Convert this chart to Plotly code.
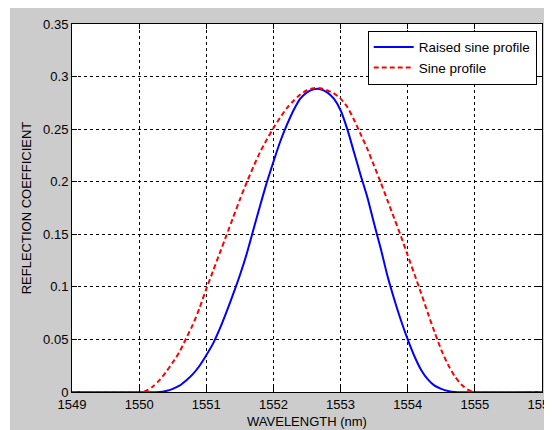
import plotly.graph_objects as go

wavelength_sine = [1549.0, 1550.0, 1550.1, 1550.2, 1550.3, 1550.4, 1550.5, 1550.6, 1550.7, 1550.8,
                   1550.9, 1551.0, 1551.1, 1551.2, 1551.3, 1551.4, 1551.5, 1551.6, 1551.7, 1551.8,
                   1551.9, 1552.0, 1552.1, 1552.2, 1552.3, 1552.4, 1552.5, 1552.6, 1552.7, 1552.8,
                   1552.9, 1553.0, 1553.1, 1553.2, 1553.3, 1553.4, 1553.5, 1553.6, 1553.7, 1553.8,
                   1553.9, 1554.0, 1554.1, 1554.2, 1554.3, 1554.4, 1554.5, 1554.6, 1554.7, 1554.8,
                   1554.9, 1555.0, 1556.0]
refl_sine = [0.0, 0.0, 0.001, 0.005, 0.011, 0.019, 0.028, 0.038, 0.051, 0.064,
             0.080, 0.098, 0.115, 0.132, 0.149, 0.166, 0.183, 0.199, 0.214, 0.228,
             0.240, 0.251, 0.261, 0.270, 0.277, 0.283, 0.287, 0.289, 0.289, 0.287,
             0.284, 0.279, 0.271, 0.259, 0.245, 0.231, 0.215, 0.199, 0.182, 0.165,
             0.148, 0.130, 0.112, 0.094, 0.075, 0.057, 0.040, 0.026, 0.015, 0.007,
             0.002, 0.0, 0.0]

wavelength_raised = [1549.0, 1550.3, 1550.4, 1550.5, 1550.6, 1550.7, 1550.8, 1550.9, 1551.0, 1551.1,
                     1551.2, 1551.3, 1551.4, 1551.5, 1551.6, 1551.7, 1551.8, 1551.9, 1552.0, 1552.1,
                     1552.2, 1552.3, 1552.4, 1552.5, 1552.6, 1552.7, 1552.8, 1552.9, 1553.0, 1553.1,
                     1553.2, 1553.3, 1553.4, 1553.5, 1553.6, 1553.7, 1553.8, 1553.9, 1554.0, 1554.1,
                     1554.2, 1554.3, 1554.4, 1554.5, 1554.6, 1554.7, 1556.0]
refl_raised = [0.0, 0.0, 0.001, 0.003, 0.006, 0.011, 0.017, 0.025, 0.035, 0.046,
               0.060, 0.076, 0.093, 0.111, 0.131, 0.154, 0.177, 0.199, 0.219, 0.238,
               0.254, 0.268, 0.279, 0.285, 0.288, 0.288, 0.285, 0.279, 0.268, 0.250,
               0.228, 0.206, 0.185, 0.160, 0.136, 0.110, 0.088, 0.068, 0.050, 0.034,
               0.021, 0.012, 0.006, 0.003, 0.001, 0.0, 0.0]

x_ticks = [1549, 1550, 1551, 1552, 1553, 1554, 1555, 1556]
x_labels = ["1549", "1550", "1551", "1552", "1553", "1554", "1555", "1556"]
y_ticks = [0, 0.05, 0.1, 0.15, 0.2, 0.25, 0.3, 0.35]
y_labels = ["0", "0.05", "0.1", "0.15", "0.2", "0.25", "0.3", "0.35"]

FONT = "Liberation Sans, Arial, sans-serif"
FS = 13

fig = go.Figure()
fig.add_trace(go.Scatter(x=wavelength_raised, y=refl_raised, mode="lines",
                         name="Raised sine profile",
                         line=dict(color="#0000ff", width=2, shape="spline", smoothing=0.6)))
fig.add_trace(go.Scatter(x=wavelength_sine, y=refl_sine, mode="lines",
                         name="Sine profile",
                         line=dict(color="#ff0000", width=2, dash="5px,3px", shape="spline", smoothing=0.6)))

# page has an 8px body margin; figure is placed at (8, 8)
W, H = 544, 422
L, R, T, B = 64, 10, 16, 38
pw, ph = W - L - R, H - T - B

# thin white strip at the far left (reference grey starts 2px later)
fig.add_shape(type="rect", xref="paper", yref="paper", layer="below",
              x0=-L / pw, x1=(2 - L) / pw, y0=-B / ph, y1=(H - B) / ph,
              fillcolor="white", line=dict(width=0))

axis_common = dict(showline=True, linecolor="black", linewidth=1, mirror="ticks",
                   ticks="inside", ticklen=5, tickcolor="black",
                   showgrid=True, gridcolor="black", gridwidth=1, griddash="3px,3px",
                   zeroline=False, tickfont=dict(family=FONT, size=FS, color="black"),
                   ticklabeloverflow="allow")

fig.update_xaxes(range=[1549, 1556], tickvals=x_ticks, ticktext=x_labels,
                 title=dict(text="WAVELENGTH (nm)", font=dict(family=FONT, size=FS, color="black"), standoff=6),
                 **axis_common)
fig.update_yaxes(range=[0, 0.35], tickvals=y_ticks, ticktext=y_labels,
                 title=dict(text="REFLECTION COEFFICIENT", font=dict(family=FONT, size=FS, color="black"), standoff=8),
                 **axis_common)

fig.update_layout(
    width=W, height=H,
    margin=dict(l=L, r=R, t=T, b=B, autoexpand=False),
    paper_bgcolor="#cccccc", plot_bgcolor="white",
    font=dict(family=FONT, size=FS, color="black"),
    legend=dict(x=(528.7 - L) / pw, y=(H - B - 22.7) / ph, xanchor="right", yanchor="top",
                bgcolor="white", bordercolor="black", borderwidth=1,
                font=dict(family=FONT, size=13.5, color="black"), itemwidth=40,
                tracegroupgap=0),
    showlegend=True,
)

fig.write_html("out.html")
